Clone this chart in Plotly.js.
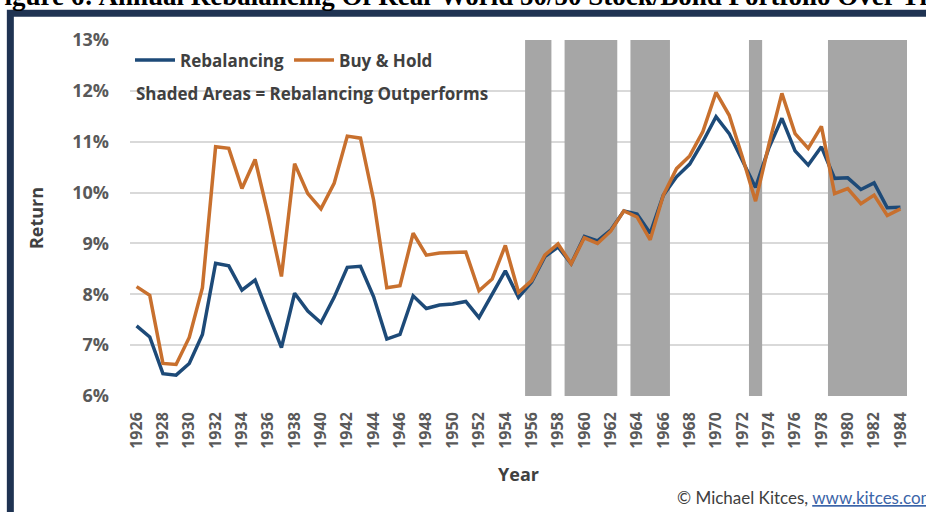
<!DOCTYPE html>
<html>
<head>
<meta charset="utf-8">
<script src="https://cdn.plot.ly/plotly-3.0.1.min.js"></script>
<style>
html,body{margin:0;padding:0;background:#fff;overflow:hidden;}
#chart{width:926px;height:512px;}
</style>
</head>
<body>
<div id="chart"></div>
<script>
// ---- data ----
const years = [1926,1927,1928,1929,1930,1931,1932,1933,1934,1935,1936,1937,1938,1939,1940,
  1941,1942,1943,1944,1945,1946,1947,1948,1949,1950,1951,1952,1953,1954,1955,
  1956,1957,1958,1959,1960,1961,1962,1963,1964,1965,1966,1967,1968,1969,1970,
  1971,1972,1973,1974,1975,1976,1977,1978,1979,1980,1981,1982,1983,1984];

const rebalancing = [7.38,7.16,6.44,6.41,6.64,7.21,8.61,8.56,8.08,8.28,7.61,6.95,8.02,7.67,7.44,
  7.94,8.53,8.55,7.95,7.12,7.21,7.97,7.72,7.79,7.81,7.86,7.54,8.00,8.46,7.94,
  8.24,8.74,8.93,8.60,9.14,9.05,9.26,9.64,9.58,9.20,9.95,10.31,10.56,11.00,11.49,
  11.16,10.64,10.10,10.87,11.46,10.82,10.54,10.90,10.28,10.29,10.06,10.19,9.70,9.71];

const buyHold = [8.15,7.98,6.64,6.62,7.15,8.13,10.90,10.87,10.08,10.65,9.55,8.35,10.57,9.98,9.68,
  10.18,11.11,11.07,9.85,8.13,8.17,9.20,8.77,8.81,8.82,8.83,8.07,8.30,8.96,8.04,
  8.27,8.77,8.99,8.60,9.11,9.00,9.24,9.64,9.52,9.07,9.95,10.47,10.72,11.20,11.97,
  11.52,10.70,9.83,10.93,11.95,11.16,10.87,11.30,9.98,10.08,9.78,9.95,9.55,9.68];

// periods where rebalancing outperforms (first year, last year)
const shadedStart = [1956,1959,1964,1973,1979];
const shadedEnd   = [1957,1962,1966,1973,1984];

const tickYears = [1926,1928,1930,1932,1934,1936,1938,1940,1942,1944,1946,1948,1950,1952,1954,
  1956,1958,1960,1962,1964,1966,1968,1970,1972,1974,1976,1978,1980,1982,1984];
const tickLabels = ['1926','1928','1930','1932','1934','1936','1938','1940','1942','1944','1946','1948','1950','1952','1954',
  '1956','1958','1960','1962','1964','1966','1968','1970','1972','1974','1976','1978','1980','1982','1984'];

const yTicks = [6,7,8,9,10,11,12,13];
const yTickLabels = ['6%','7%','8%','9%','10%','11%','12%','13%'];

// ---- styling ----
const FONT = '"Open Sans", "Noto Sans", sans-serif';
const FONT2 = 'Lato, "Noto Sans", sans-serif';
const TXT = '#404040';
const BLUE = '#1d4a78';
const ORANGE = '#c8702e';

const traces = [
  {x: years, y: rebalancing, type: 'scatter', mode: 'lines', name: 'Rebalancing',
   line: {color: BLUE, width: 3.5}, hoverinfo: 'skip'},
  {x: years, y: buyHold, type: 'scatter', mode: 'lines', name: 'Buy & Hold',
   line: {color: ORANGE, width: 3.5}, hoverinfo: 'skip'}
];

const shapes = shadedStart.map((s, i) => ({
  type: 'rect', xref: 'x', yref: 'y', layer: 'between',
  x0: s - 0.5, x1: shadedEnd[i] + 0.5, y0: 6, y1: 13,
  fillcolor: '#a6a6a6', line: {width: 0}
}));

// frame around the figure
shapes.push({
  type: 'rect', xref: 'paper', yref: 'paper', layer: 'above',
  x0: -0.154, x1: 1.05, y0: -0.35, y1: 1.075,
  line: {color: '#1f3352', width: 7}, fillcolor: 'rgba(0,0,0,0)'
});

const layout = {
  width: 926, height: 512,
  margin: {l: 130, r: 19, t: 40, b: 116},
  paper_bgcolor: '#ffffff', plot_bgcolor: '#ffffff',
  font: {family: FONT, color: TXT},
  showlegend: true,
  legend: {
    orientation: 'h', x: 0, xanchor: 'left', y: 0.993, yanchor: 'top',
    font: {family: FONT, size: 17, color: TXT, weight: 'bold'},
    bgcolor: 'rgba(0,0,0,0)', itemwidth: 40, traceorder: 'normal'
  },
  xaxis: {
    type: 'linear', range: [1925.5, 1984.5],
    tickmode: 'array', tickvals: tickYears, ticktext: tickLabels,
    tickangle: -90, ticks: '', showgrid: false, zeroline: false,
    showline: false, ticklabelstandoff: 12,
    tickfont: {family: FONT, size: 16, color: '#595959', weight: 'bold'},
    title: {text: 'Year', standoff: 20, font: {family: FONT, size: 18, color: TXT, weight: 'bold'}}
  },
  yaxis: {
    range: [6, 13], tickmode: 'array', tickvals: yTicks, ticktext: yTickLabels,
    ticks: '', showgrid: true, gridcolor: '#d9d9d9', gridwidth: 2, zeroline: false,
    showline: false, ticklabelstandoff: 20,
    tickfont: {family: FONT, size: 18, color: '#595959', weight: 'bold'},
    title: {text: 'Return', standoff: 23, font: {family: FONT, size: 18, color: TXT, weight: 'bold'}}
  },
  shapes: shapes,
  annotations: [
    {xref: 'paper', yref: 'paper', x: 0.005, y: 0.85, xanchor: 'left', yanchor: 'middle',
     text: 'Shaded Areas = Rebalancing Outperforms', showarrow: false,
     font: {family: FONT, size: 17, color: TXT, weight: 'bold'}},
    {xref: 'paper', yref: 'paper', x: 0.702, y: -0.285, xanchor: 'left', yanchor: 'middle',
     text: '© Michael Kitces, <span style="fill:#3b64a8;text-decoration:underline">www.kitces.com</span>',
     showarrow: false, font: {family: FONT2, size: 17, color: TXT}},
    {xref: 'paper', yref: 'paper', x: -0.185, y: 1.076, xanchor: 'left', yanchor: 'bottom',
     text: 'Figure 6: Annual Rebalancing Of Real-World 50/50 Stock/Bond Portfolio Over Thirty Years',
     showarrow: false, font: {family: '"Liberation Serif", "Times New Roman", serif', size: 27, color: '#000', weight: 'bold'}}
  ]
};

Plotly.newPlot('chart', traces, layout, {staticPlot: true, displayModeBar: false});
</script>
</body>
</html>
